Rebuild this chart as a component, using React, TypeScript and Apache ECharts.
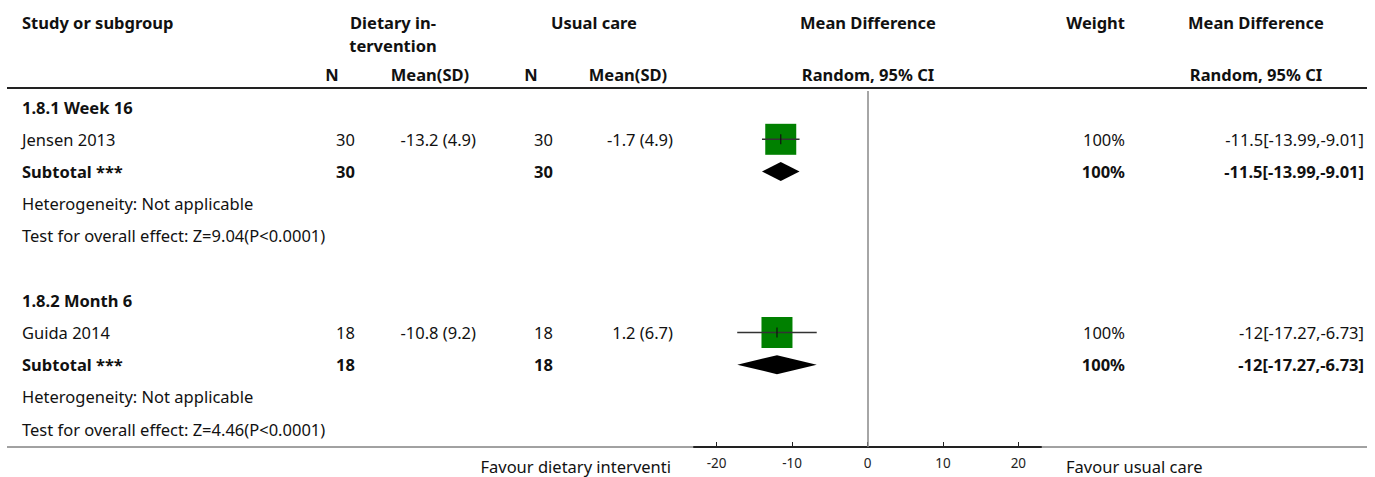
import React, { useEffect, useRef } from "react";
import * as echarts from "echarts";

const FONT = "'Noto Sans', Lato, sans-serif";
const FS = 16.5;

const groupLabels = ["1.8.1 Week 16", "1.8.2 Month 6"];
const studyNames = ["Jensen 2013", "Guida 2014"];
const interventionN = [30, 18];
const interventionMean = [-13.2, -10.8];
const interventionSD = [4.9, 9.2];
const controlN = [30, 18];
const controlMean = [-1.7, 1.2];
const controlSD = [4.9, 6.7];
const meanDiff = [-11.5, -12];
const ciLow = [-13.99, -17.27];
const ciHigh = [-9.01, -6.73];
const weights = [100, 100];
const heterogeneity = ["Not applicable", "Not applicable"];
const overallZ = [9.04, 4.46];
const overallP = ["P<0.0001", "P<0.0001"];
const axisTicks = [-20, -10, 0, 10, 20];
const favourLeft = "Favour dietary interventi";
const favourRight = "Favour usual care";

const ROWS_PER_GROUP = 6;
const ROW_H = 32.2;
const GRID_TOP = 91;
const GRID_H = 356;

const COL = {
  label: 22,
  nT: 355,
  meanT: 476,
  nC: 553,
  meanC: 673,
  weight: 1125,
  md: 1364,
};

type Cell = { text: string; x: number; align: "left" | "right" | "center"; bold?: boolean };

function buildTableRows() {
  const rows: { row: number; cells: Cell[] }[] = [];
  groupLabels.forEach((g, i) => {
    const base = i * ROWS_PER_GROUP;
    const ci = `${meanDiff[i]}[${ciLow[i]},${ciHigh[i]}]`;
    rows.push({ row: base, cells: [{ text: g, x: COL.label, align: "left", bold: true }] });
    rows.push({
      row: base + 1,
      cells: [
        { text: studyNames[i], x: COL.label, align: "left" },
        { text: String(interventionN[i]), x: COL.nT, align: "right" },
        { text: `${interventionMean[i]} (${interventionSD[i]})`, x: COL.meanT, align: "right" },
        { text: String(controlN[i]), x: COL.nC, align: "right" },
        { text: `${controlMean[i]} (${controlSD[i]})`, x: COL.meanC, align: "right" },
        { text: `${weights[i]}%`, x: COL.weight, align: "right" },
        { text: ci, x: COL.md, align: "right" },
      ],
    });
    rows.push({
      row: base + 2,
      cells: [
        { text: "Subtotal ***", x: COL.label, align: "left", bold: true },
        { text: String(interventionN[i]), x: COL.nT, align: "right", bold: true },
        { text: String(controlN[i]), x: COL.nC, align: "right", bold: true },
        { text: `${weights[i]}%`, x: COL.weight, align: "right", bold: true },
        { text: ci, x: COL.md, align: "right", bold: true },
      ],
    });
    rows.push({
      row: base + 3,
      cells: [{ text: `Heterogeneity: ${heterogeneity[i]}`, x: COL.label, align: "left" }],
    });
    rows.push({
      row: base + 4,
      cells: [
        { text: `Test for overall effect: Z=${overallZ[i]}(${overallP[i]})`, x: COL.label, align: "left" },
      ],
    });
  });
  return rows;
}

export default function App() {
  const ref = useRef<HTMLDivElement>(null);

  useEffect(() => {
    const chart = echarts.init(ref.current!, null, { renderer: "svg" });
    const tableRows = buildTableRows();

    const studyData = meanDiff.map((m, i) => [m, ciLow[i], ciHigh[i], i * ROWS_PER_GROUP + 1]);
    const subtotalData = meanDiff.map((m, i) => [m, ciLow[i], ciHigh[i], i * ROWS_PER_GROUP + 2]);

    const hdr = (text: string, x: number, y: number, align: string) => ({
      type: "text",
      x,
      y,
      style: {
        text,
        fill: "#111",
        font: `bold ${FS}px ${FONT}`,
        textAlign: align,
        textVerticalAlign: "middle",
      },
    });

    const option: any = {
      animation: false,
      backgroundColor: "#fff",
      grid: { left: 694, width: 347, top: GRID_TOP, height: GRID_H },
      xAxis: {
        type: "value",
        min: -23,
        max: 23,
        splitLine: { show: false },
        axisLine: { show: true, onZero: false, lineStyle: { color: "#222", width: 2 } },
        axisTick: {
          show: true,
          inside: true,
          length: 5,
          customValues: axisTicks,
          lineStyle: { color: "#222", width: 1 },
        },
        axisLabel: {
          customValues: axisTicks,
          fontSize: 13.5,
          color: "#222",
          margin: 9,
          fontFamily: FONT,
        },
      },
      yAxis: {
        type: "value",
        inverse: true,
        min: -0.5,
        max: -0.5 + GRID_H / ROW_H,
        show: false,
      },
      graphic: [
        hdr("Study or subgroup", 22, 22, "left"),
        hdr("Dietary in-", 393, 22, "center"),
        hdr("tervention", 393, 45, "center"),
        hdr("Usual care", 594, 22, "center"),
        hdr("Mean Difference", 868, 22, "center"),
        hdr("Weight", 1125, 22, "right"),
        hdr("Mean Difference", 1256, 22, "center"),
        hdr("N", 332, 74, "center"),
        hdr("Mean(SD)", 430, 74, "center"),
        hdr("N", 531, 74, "center"),
        hdr("Mean(SD)", 628, 74, "center"),
        hdr("Random, 95% CI", 868, 74, "center"),
        hdr("Random, 95% CI", 1256, 74, "center"),
        {
          type: "line",
          shape: { x1: 7, y1: 88, x2: 1367, y2: 88 },
          style: { stroke: "#222", lineWidth: 2 },
        },
        {
          type: "line",
          z: -1,
          shape: { x1: 7, y1: 447, x2: 1367, y2: 447 },
          style: { stroke: "#444", lineWidth: 1 },
        },
        {
          type: "text",
          x: 671,
          y: 466,
          style: {
            text: favourLeft,
            fill: "#111",
            font: `${FS}px ${FONT}`,
            textAlign: "right",
            textVerticalAlign: "middle",
          },
        },
        {
          type: "text",
          x: 1066,
          y: 466,
          style: {
            text: favourRight,
            fill: "#111",
            font: `${FS}px ${FONT}`,
            textAlign: "left",
            textVerticalAlign: "middle",
          },
        },
      ],
      series: [
        {
          type: "custom",
          name: "table",
          clip: false,
          silent: true,
          data: tableRows.map((r) => [0, r.row]),
          renderItem: (params: any, api: any) => {
            const r = tableRows[params.dataIndex];
            const y = api.coord([0, api.value(1)])[1];
            return {
              type: "group",
              children: r.cells.map((c) => ({
                type: "text",
                x: c.x,
                y,
                style: {
                  text: c.text,
                  fill: "#111",
                  font: `${c.bold ? "bold " : ""}${FS}px ${FONT}`,
                  textAlign: c.align,
                  textVerticalAlign: "middle",
                },
              })),
            };
          },
        },
        {
          type: "custom",
          name: "studies",
          clip: false,
          silent: true,
          data: studyData,
          renderItem: (params: any, api: any) => {
            const row = api.value(3);
            const c = api.coord([api.value(0), row]);
            const l = api.coord([api.value(1), row]);
            const h = api.coord([api.value(2), row]);
            const s = 31;
            return {
              type: "group",
              children: [
                {
                  type: "rect",
                  shape: { x: c[0] - s / 2, y: c[1] - s / 2, width: s, height: s },
                  style: { fill: "#008000" },
                },
                {
                  type: "line",
                  shape: { x1: l[0], y1: c[1], x2: h[0], y2: c[1] },
                  style: { stroke: "#333", lineWidth: 1.5 },
                },
                {
                  type: "line",
                  shape: { x1: c[0], y1: c[1] - 5, x2: c[0], y2: c[1] + 5 },
                  style: { stroke: "#111", lineWidth: 1.2 },
                },
              ],
            };
          },
          markLine: {
            silent: true,
            symbol: ["none", "none"],
            label: { show: false },
            lineStyle: { color: "#888", width: 1.5, type: "solid" },
            data: [{ xAxis: 0 }],
          },
        },
        {
          type: "custom",
          name: "subtotals",
          clip: false,
          silent: true,
          data: subtotalData,
          renderItem: (params: any, api: any) => {
            const row = api.value(3);
            const c = api.coord([api.value(0), row]);
            const l = api.coord([api.value(1), row]);
            const h = api.coord([api.value(2), row]);
            const hh = 9.5;
            return {
              type: "polygon",
              shape: {
                points: [
                  [l[0], c[1]],
                  [c[0], c[1] - hh],
                  [h[0], c[1]],
                  [c[0], c[1] + hh],
                ],
              },
              style: { fill: "#000" },
            };
          },
        },
      ],
    };

    chart.setOption(option);
    return () => chart.dispose();
  }, []);

  return (
    <div
      ref={ref}
      style={{ position: "absolute", left: 0, top: 0, width: 1375, height: 477 }}
    />
  );
}
